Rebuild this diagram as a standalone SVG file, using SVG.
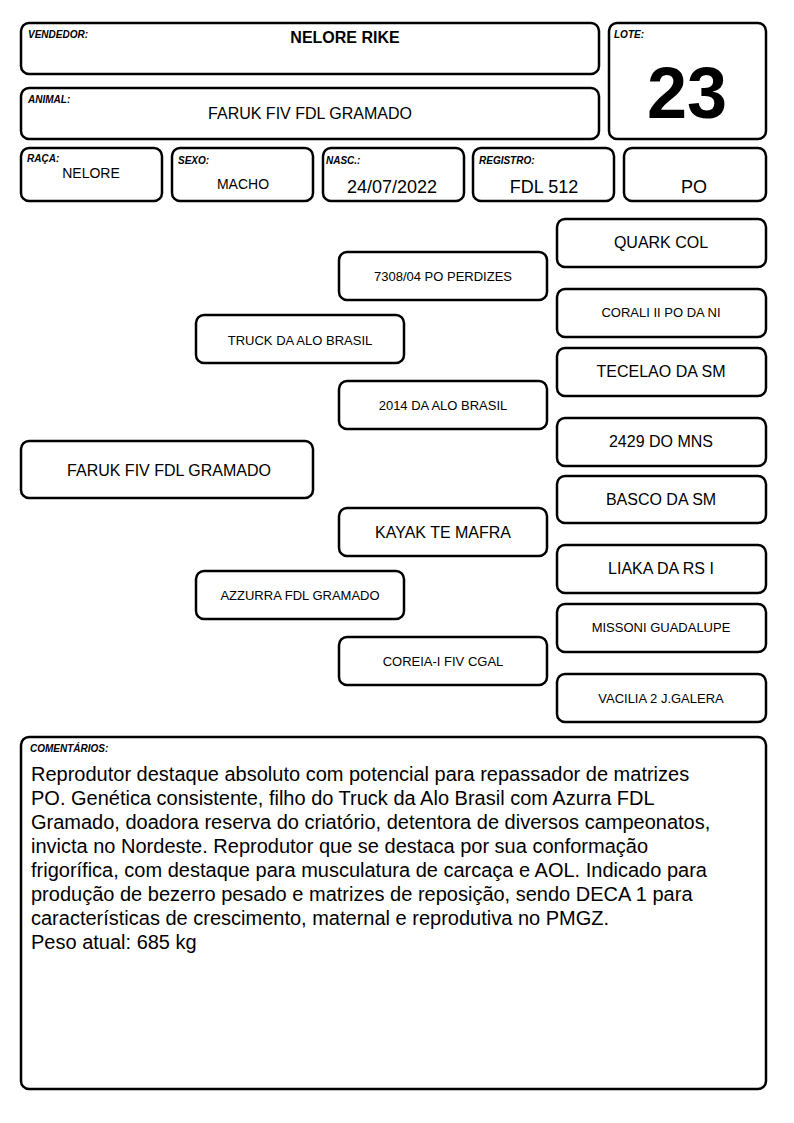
<svg xmlns="http://www.w3.org/2000/svg" width="794" height="1123" viewBox="0 0 794 1123">
<style>
.b{fill:#fff;stroke:#000;stroke-width:2.5}
.lb{font-family:"Liberation Sans",Arial,sans-serif;font-size:10px;font-weight:bold;font-style:italic}
.t{font-family:"Liberation Sans",Arial,sans-serif;text-anchor:middle;fill:#000}
.s13{font-size:13px}
.s14{font-size:14px}
.s16{font-size:16px}
.s18{font-size:18px}
.c{font-family:"Liberation Sans",Arial,sans-serif;font-size:20px}
</style>
<rect width="794" height="1123" fill="#fff"/>
<g id="vendedor"><rect class="b" x="21" y="23" width="578" height="51" rx="8"/><text class="lb" x="28" y="38">VENDEDOR:</text><text class="t s16" x="345" y="43" font-weight="bold">NELORE RIKE</text></g>
<g id="lote"><rect class="b" x="609" y="23" width="157" height="116" rx="8"/><text class="lb" x="614" y="38">LOTE:</text><text class="t" x="687" y="118" font-size="72" font-weight="bold">23</text></g>
<g id="animal"><rect class="b" x="21" y="88" width="578" height="51" rx="8"/><text class="lb" x="28" y="103">ANIMAL:</text><text class="t s16" x="310" y="119">FARUK FIV FDL GRAMADO</text></g>
<g id="raca"><rect class="b" x="21" y="148" width="141" height="53" rx="8"/><text class="lb" x="27" y="162">RAÇA:</text><text class="t s14" x="91" y="178">NELORE</text></g>
<g id="sexo"><rect class="b" x="172" y="148" width="141" height="53" rx="8"/><text class="lb" x="178" y="164">SEXO:</text><text class="t s14" x="243" y="189">MACHO</text></g>
<g id="nasc"><rect class="b" x="323" y="148" width="141" height="53" rx="8"/><text class="lb" x="326" y="164">NASC.:</text><text class="t s18" x="392" y="193">24/07/2022</text></g>
<g id="registro"><rect class="b" x="473" y="148" width="141" height="53" rx="8"/><text class="lb" x="479" y="164">REGISTRO:</text><text class="t s18" x="544" y="193">FDL 512</text></g>
<g id="po"><rect class="b" x="624" y="148" width="142" height="53" rx="8"/><text class="t s18" x="694" y="193">PO</text></g>
<g id="quark"><rect class="b" x="557" y="219" width="209" height="48" rx="8"/><text class="t s16" x="661" y="248">QUARK COL</text></g>
<g id="perdizes"><rect class="b" x="339" y="252" width="208" height="48" rx="8"/><text class="t s13" x="443" y="281">7308/04 PO PERDIZES</text></g>
<g id="corali"><rect class="b" x="557" y="289" width="209" height="48" rx="8"/><text class="t s13" x="661" y="317">CORALI II PO DA NI</text></g>
<g id="truck"><rect class="b" x="196" y="315" width="208" height="48" rx="8"/><text class="t s13" x="300" y="345">TRUCK DA ALO BRASIL</text></g>
<g id="tecelao"><rect class="b" x="557" y="348" width="209" height="48" rx="8"/><text class="t s16" x="661" y="377">TECELAO DA SM</text></g>
<g id="alo2014"><rect class="b" x="339" y="381" width="208" height="48" rx="8"/><text class="t s13" x="443" y="410">2014 DA ALO BRASIL</text></g>
<g id="mns"><rect class="b" x="557" y="418" width="209" height="48" rx="8"/><text class="t s16" x="661" y="447">2429 DO MNS</text></g>
<g id="faruk"><rect class="b" x="21" y="441" width="292" height="57" rx="8"/><text class="t s16" x="169" y="476">FARUK FIV FDL GRAMADO</text></g>
<g id="basco"><rect class="b" x="557" y="476" width="209" height="47" rx="8"/><text class="t s16" x="661" y="505">BASCO DA SM</text></g>
<g id="kayak"><rect class="b" x="339" y="508" width="208" height="48" rx="8"/><text class="t s16" x="443" y="538">KAYAK TE MAFRA</text></g>
<g id="liaka"><rect class="b" x="557" y="545" width="209" height="48" rx="8"/><text class="t s16" x="661" y="574">LIAKA DA RS I</text></g>
<g id="azzurra"><rect class="b" x="196" y="571" width="208" height="48" rx="8"/><text class="t s13" x="300" y="600">AZZURRA FDL GRAMADO</text></g>
<g id="missoni"><rect class="b" x="557" y="604" width="209" height="48" rx="8"/><text class="t s13" x="661" y="632">MISSONI GUADALUPE</text></g>
<g id="coreia"><rect class="b" x="339" y="637" width="208" height="48" rx="8"/><text class="t s13" x="443" y="666">COREIA-I FIV CGAL</text></g>
<g id="vacilia"><rect class="b" x="557" y="674" width="209" height="48" rx="8"/><text class="t s13" x="661" y="703">VACILIA 2 J.GALERA</text></g>
<g id="connectors"></g>
<g id="comentarios"><rect class="b" x="21" y="737" width="745" height="352" rx="8"/><text class="lb" x="30" y="752">COMENTÁRIOS:</text>
<text class="c" x="31" y="781">Reprodutor destaque absoluto com potencial para repassador de matrizes</text>
<text class="c" x="31" y="805">PO. Genética consistente, filho do Truck da Alo Brasil com Azurra FDL</text>
<text class="c" x="31" y="829">Gramado, doadora reserva do criatório, detentora de diversos campeonatos,</text>
<text class="c" x="31" y="853">invicta no Nordeste. Reprodutor que se destaca por sua conformação</text>
<text class="c" x="31" y="877">frigorífica, com destaque para musculatura de carcaça e AOL. Indicado para</text>
<text class="c" x="31" y="901">produção de bezerro pesado e matrizes de reposição, sendo DECA 1 para</text>
<text class="c" x="31" y="925">características de crescimento, maternal e reprodutiva no PMGZ.</text>
<text class="c" x="31" y="949">Peso atual: 685 kg</text>
</g>
</svg>
